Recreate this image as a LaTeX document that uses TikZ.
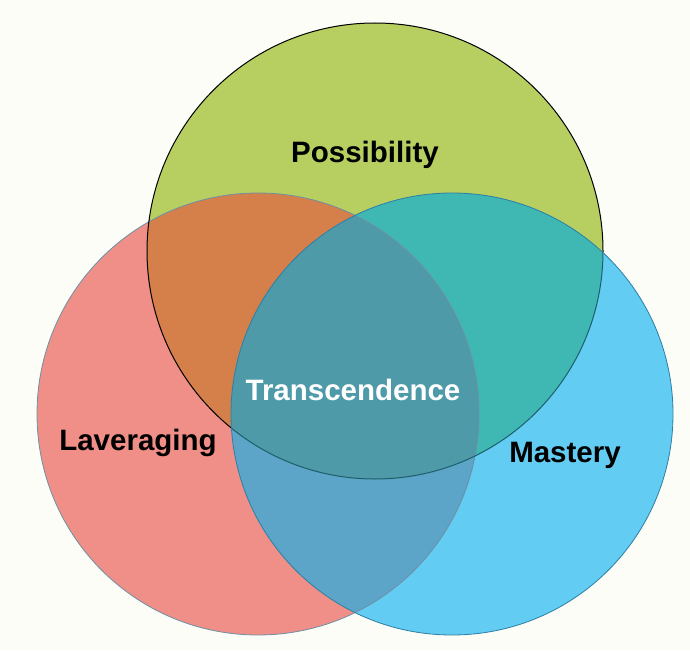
\documentclass[tikz,border=0pt]{standalone}
\usepackage{fontspec}
\setmainfont{Liberation Sans}
\definecolor{bg}{HTML}{FDFDF8}
\definecolor{cred}{HTML}{EF8F87}
\definecolor{cgreen}{HTML}{B7CF61}
\definecolor{cblue}{HTML}{62CCF2}
\definecolor{corange}{HTML}{D5804A}
\definecolor{cteal}{HTML}{3FB8B3}
\definecolor{credblue}{HTML}{5CA5C8}
\definecolor{ccenter}{HTML}{4E9AA9}
\definecolor{credline}{HTML}{6F8FA3}
\definecolor{cblueline}{HTML}{2C7FA6}
\definecolor{cgreenin}{HTML}{1F5F6C}
\begin{document}
\begin{tikzpicture}[x=1pt,y=-1pt,
  lbl/.style={font=\fontsize{29.5}{33}\selectfont\bfseries, inner sep=0pt}]
\fill[bg] (0,0) rectangle (690,650);
\useasboundingbox (0,0) rectangle (690,650);
\coordinate (cr) at (258,414);
\coordinate (cg) at (375,251);
\coordinate (cb) at (452,414);
% base fills
\fill[cred] (cr) circle[radius=221pt];
\fill[cgreen] (cg) circle[radius=228pt];
\fill[cblue] (cb) circle[radius=221pt];
% pairwise overlaps
\begin{scope}
  \clip (cr) circle[radius=221pt];
  \fill[corange] (cg) circle[radius=228pt];
  \fill[credblue] (cb) circle[radius=221pt];
\end{scope}
\begin{scope}
  \clip (cg) circle[radius=228pt];
  \fill[cteal] (cb) circle[radius=221pt];
\end{scope}
\begin{scope}
  \clip (cr) circle[radius=221pt];
  \clip (cg) circle[radius=228pt];
  \fill[ccenter] (cb) circle[radius=221pt];
\end{scope}
% outlines
\draw[credline, line width=0.8pt] (cr) circle[radius=221pt];
\begin{scope}[even odd rule]
  \clip (0,0) rectangle (690,650) (cb) circle[radius=221pt];
  \draw[black, line width=1pt] (cg) circle[radius=228pt];
\end{scope}
\begin{scope}
  \clip (cb) circle[radius=221pt];
  \draw[cgreenin, line width=1pt] (cg) circle[radius=228pt];
\end{scope}
\draw[cblueline, line width=0.8pt] (cb) circle[radius=221pt];
% labels
\node[lbl] (pos) at (365,155) {Possibility};
\node[lbl, white] (tra) at (353,390) {Transcendence};
\node[lbl] (lav) at (138,443) {Laveraging};
\node[lbl] (mas) at (565,455) {Mastery};
\end{tikzpicture}
\end{document}
